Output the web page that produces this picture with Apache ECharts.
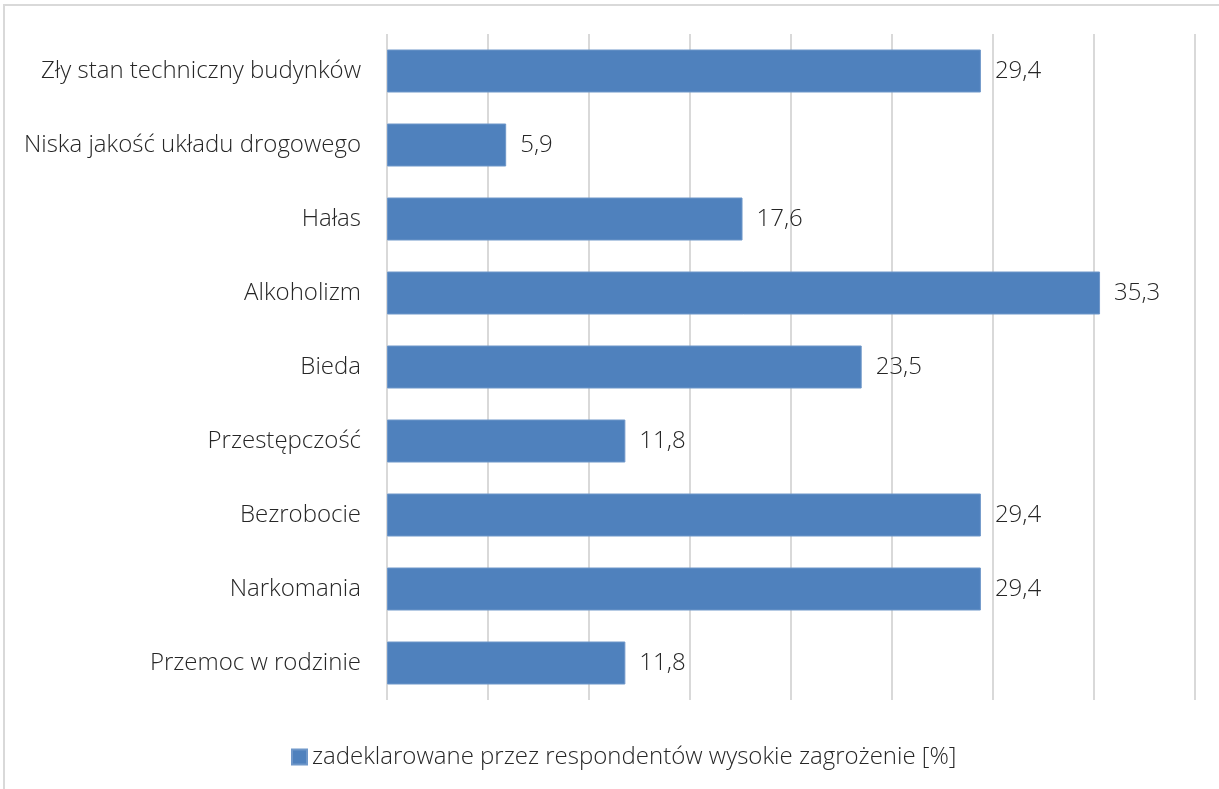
<!DOCTYPE html>
<html>
<head>
<meta charset="utf-8">
<script src="https://cdn.jsdelivr.net/npm/echarts@6/dist/echarts.min.js"></script>
<style>
  html, body { margin: 0; padding: 0; background: #fff; }
  #chart { width: 1219px; height: 789px; }
</style>
</head>
<body>
<div id="chart"></div>
<script>
// kategorie (od góry do dołu)
const categories = [
  'Zły stan techniczny budynków',
  'Niska jakość układu drogowego',
  'Hałas',
  'Alkoholizm',
  'Bieda',
  'Przestępczość',
  'Bezrobocie',
  'Narkomania',
  'Przemoc w rodzinie'
]
const values = [29.4, 5.9, 17.6, 35.3, 23.5, 11.8, 29.4, 29.4, 11.8]
const seriesName = 'zadeklarowane przez respondentów wysokie zagrożenie [%]'

const font = '"Open Sans", "Noto Sans", sans-serif'
const textColor = '#262626'

let myEcharts = echarts.init(document.getElementById('chart'))
let option = {
  animation: false,
  textStyle: { fontFamily: font },
  graphic: [
    {
      type: 'rect',
      shape: { x: 4, y: 5, width: 1400, height: 900 },
      style: { fill: 'none', stroke: '#d9d9d9', lineWidth: 2 },
      silent: true
    }
  ],
  grid: { left: 387, right: 24, top: 34, bottom: 89 },
  legend: {
    data: [seriesName],
    left: 286,
    top: 740,
    icon: 'rect',
    itemWidth: 15,
    itemHeight: 15,
    textStyle: { fontSize: 24, fontWeight: 300, color: textColor, fontFamily: font }
  },
  xAxis: {
    type: 'value',
    min: 0,
    max: 40,
    interval: 5,
    axisLabel: { show: false },
    axisLine: { show: false },
    axisTick: { show: false },
    splitLine: { show: true, lineStyle: { color: '#d9d9d9', width: 2 } }
  },
  yAxis: {
    type: 'category',
    data: categories,
    inverse: true,
    axisLine: { show: false },
    axisTick: { show: false },
    axisLabel: { fontSize: 24, fontWeight: 300, color: textColor, margin: 26, fontFamily: font }
  },
  series: [
    {
      name: seriesName,
      type: 'bar',
      data: values,
      barWidth: 43,
      itemStyle: { color: '#4f81bd', borderColor: '#6f97c9', borderWidth: 1 },
      label: {
        show: true,
        position: 'right',
        distance: 14,
        fontSize: 24,
        fontWeight: 300,
        color: textColor,
        fontFamily: font,
        formatter: p => String(p.value).replace('.', ',')
      }
    }
  ]
}
option && myEcharts.setOption(option)
</script>
</body>
</html>
